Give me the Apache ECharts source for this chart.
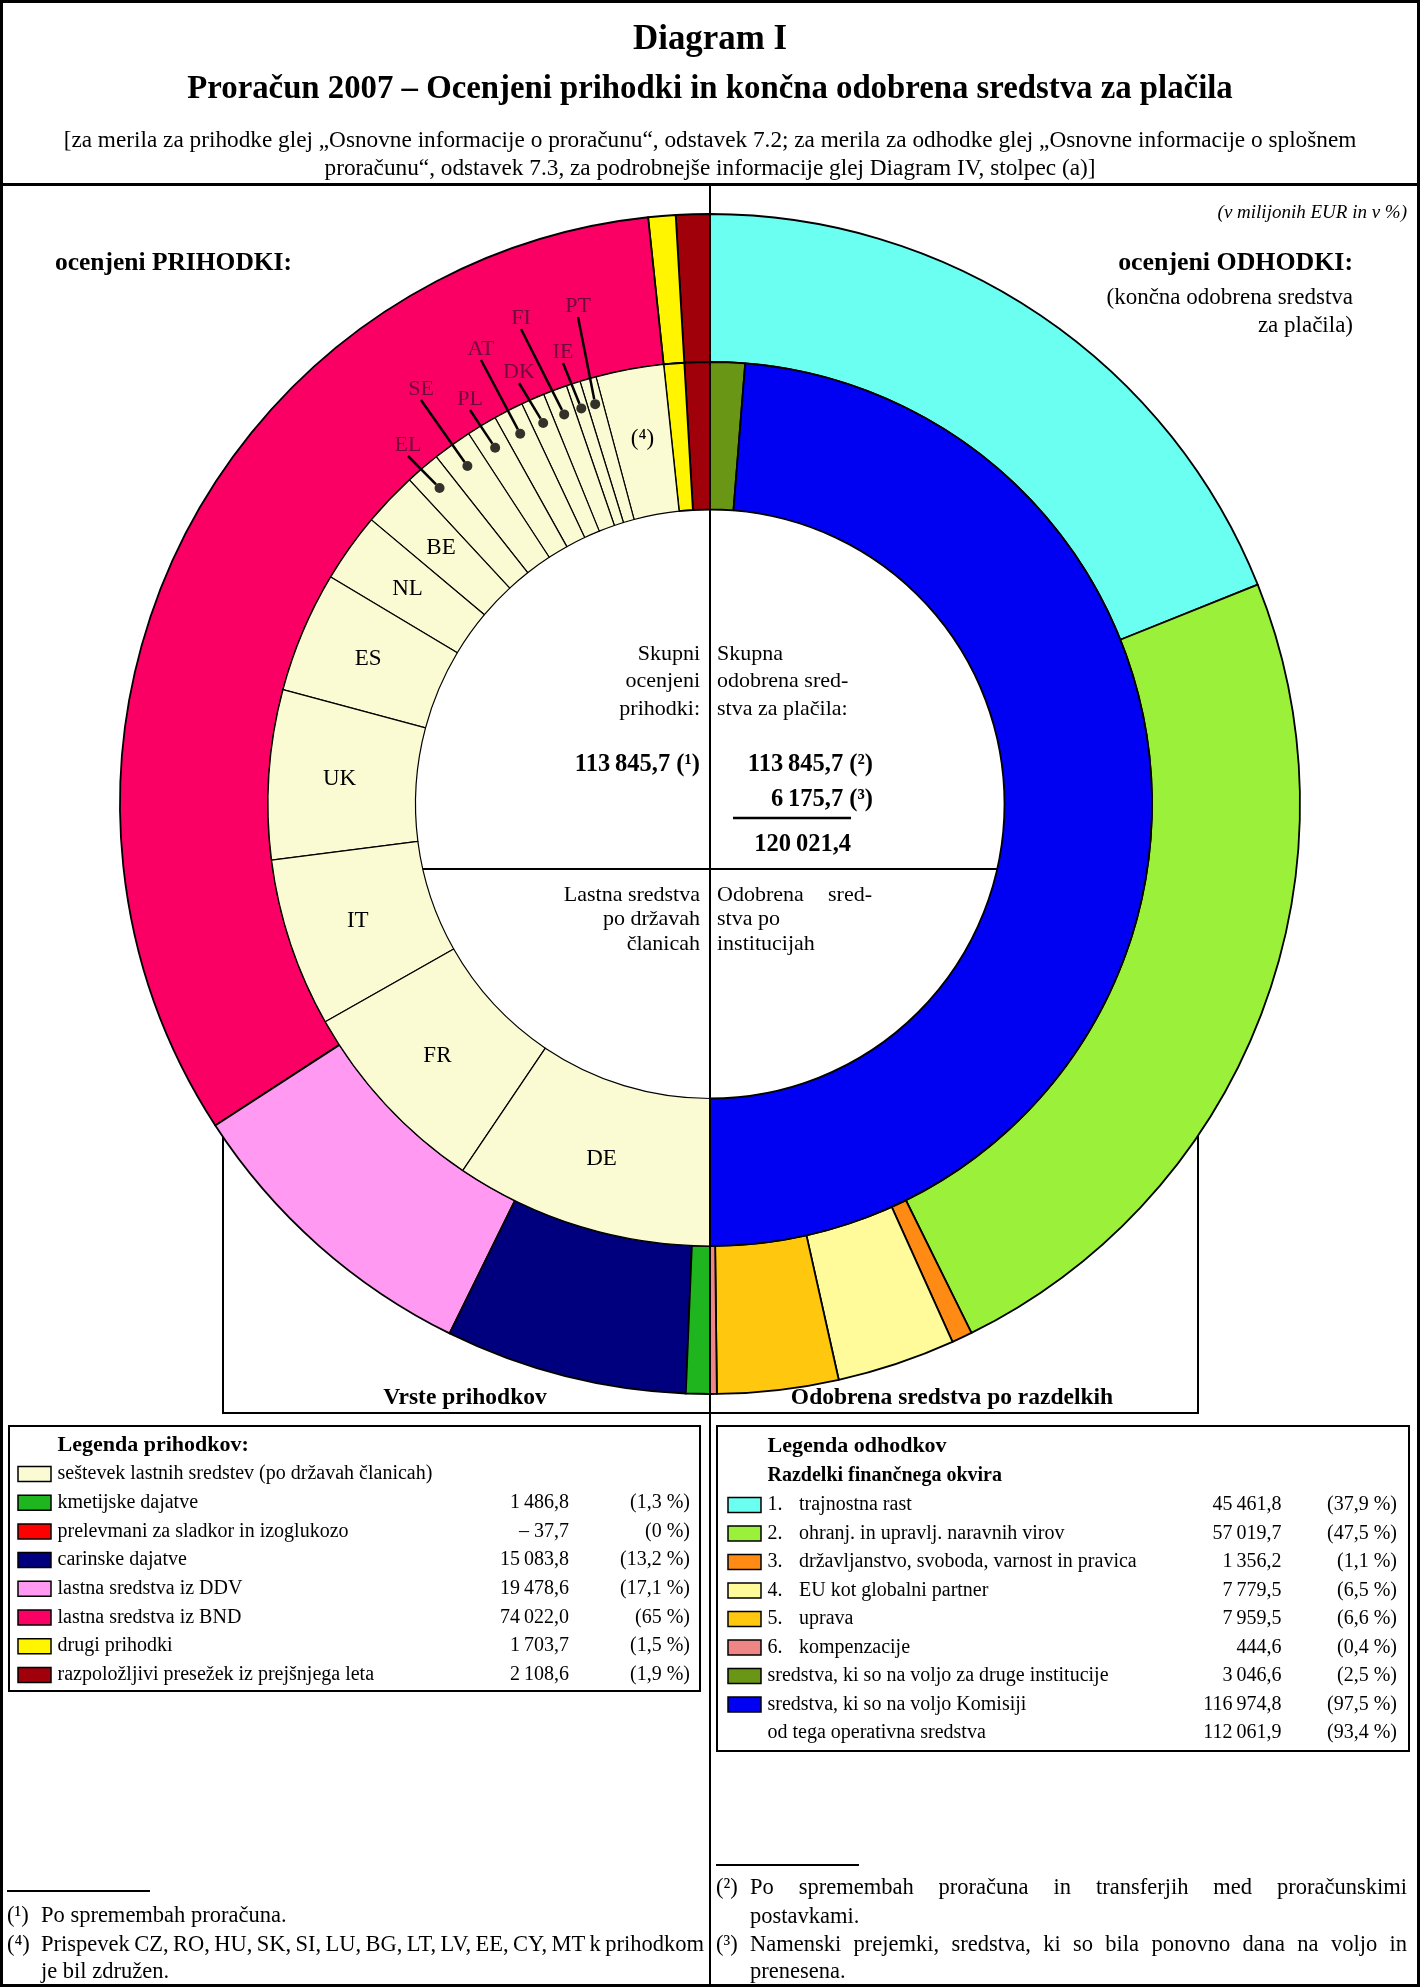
<!DOCTYPE html>
<html><head><meta charset="utf-8">
<script src="https://cdn.jsdelivr.net/npm/echarts@6/dist/echarts.min.js"></script>
<style>html,body{margin:0;padding:0;background:#fff}#c{width:1420px;height:1987px}</style>
</head><body><div id="c"></div>
<script>
// ================= DATA =================
const revenueNames = ['seštevek lastnih sredstev (po državah članicah)', 'kmetijske dajatve', 'prelevmani za sladkor in izoglukozo', 'carinske dajatve', 'lastna sredstva iz DDV', 'lastna sredstva iz BND', 'drugi prihodki', 'razpoložljivi presežek iz prejšnjega leta'];
const revenueValues = [null, 1486.8, -37.7, 15083.8, 19478.6, 74022.0, 1703.7, 2108.6];
const revenuePct = [null, 1.3, 0, 13.2, 17.1, 65, 1.5, 1.9];

const expenseNums = ['1.', '2.', '3.', '4.', '5.', '6.', '', '', ''];
const expenseNames = ['trajnostna rast', 'ohranj. in upravlj. naravnih virov', 'državljanstvo, svoboda, varnost in pravica', 'EU kot globalni partner', 'uprava', 'kompenzacije', 'sredstva, ki so na voljo za druge institucije', 'sredstva, ki so na voljo Komisiji', 'od tega operativna sredstva'];
const expenseValues = [45461.8, 57019.7, 1356.2, 7779.5, 7959.5, 444.6, 3046.6, 116974.8, 112061.9];
const expensePct = [37.9, 47.5, 1.1, 6.5, 6.6, 0.4, 2.5, 97.5, 93.4];

// own resources by member state, from top going counter-clockwise
const memberStates = ['(⁴)', 'PT', 'IE', 'FI', 'DK', 'AT', 'PL', 'SE', 'EL', 'BE', 'NL', 'ES', 'UK', 'IT', 'FR', 'DE'];
const memberValues = [5640, 1360, 1170, 1990, 1960, 2470, 2530, 3260, 2910, 4520, 5760, 10060, 14100, 14040, 16760, 21500];
const smallStates = ['PT', 'IE', 'FI', 'DK', 'AT', 'PL', 'SE', 'EL'];

const totalRevenue = 113845.7;
const totalAppropriations = 113845.7;
const assignedRevenue = 6175.7;
const totalExpenditure = 120021.4;

// ================= STYLE / LAYOUT =================
const revenueColors = ['#FBFBD3', '#1FB51F', '#FF0000', '#00007F', '#FF99F2', '#FA0064', '#FFF500', '#A0000A'];
const expenseColors = ['#6BFFF2', '#9BF03A', '#FF8A14', '#FFFB9A', '#FFC80F', '#F08585', '#6A9616', '#0000F2', null];
const smallLabelPos = { EL: [408, 445], SE: [421, 389], PL: [470, 399], AT: [481, 349], DK: [519, 372], FI: [521, 318], IE: [563, 352], PT: [578, 306] };
const CX = 710, CY = 804, R0 = 294.5, R1 = 442, R2 = 590, DOT_R = 416;
const FONT = '"Liberation Serif", "Times New Roman", serif';

// ================= HELPERS =================
const ctx = document.createElement('canvas').getContext('2d');
function fontStr(size, bold, italic) { return (italic ? 'italic ' : '') + (bold ? 'bold ' : '') + size + 'px ' + FONT; }
function measure(text, size, bold, italic) { ctx.font = fontStr(size, bold, italic); return ctx.measureText(text).width; }
function fitSize(text, width, bold, italic) { return 100 * width / measure(text, 100, bold, italic); }
function fmtNum(n) {
  const neg = n < 0; const s = Math.abs(n).toFixed(1).split('.');
  const int = s[0].replace(/\B(?=(\d{3})+(?!\d))/g, '\u2009');
  return (neg ? '– ' : '') + int + ',' + s[1];
}
function fmtPct(p) { return '(' + (Number.isInteger(p) ? String(p) : p.toFixed(1).replace('.', ',')) + '\u00A0%)'; }

const G = [];
function txt(x, y, text, o) {
  o = o || {};
  G.push({ type: 'text', x: x, y: y, z: o.z || 50, silent: true,
    style: { text: text, fill: o.color || '#000', font: fontStr(o.size || 20, o.bold, o.italic),
      textAlign: o.align || 'left', textVerticalAlign: 'middle' } });
}
function line(x1, y1, x2, y2, w, z) {
  G.push({ type: 'line', z: z || 60, silent: true, shape: { x1: x1, y1: y1, x2: x2, y2: y2 }, style: { stroke: '#000', lineWidth: w || 2 } });
}
function rect(x, y, w, h, o) {
  o = o || {};
  G.push({ type: 'rect', z: o.z || 40, silent: true, shape: { x: x, y: y, width: w, height: h }, style: { fill: o.fill || 'none', stroke: o.stroke || '#000', lineWidth: o.lw || 2 } });
}
function justify(x1, x2, y, text, size) {
  const words = text.split(' ');
  const ws = words.map(w => measure(w, size));
  const tot = ws.reduce((a, b) => a + b, 0);
  const gap = (x2 - x1 - tot) / (words.length - 1);
  let x = x1;
  words.forEach((w, i) => { txt(x, y, w, { size: size }); x += ws[i] + gap; });
}

// ================= FRAME & HEADER =================
rect(1.5, 1.5, 1417, 1984, { lw: 3, z: 70 });
line(0, 184.5, 1420, 184.5, 3, 70);
line(CX, 186, CX, 1986, 2, 70);
txt(710, 40, 'Diagram I', { bold: true, size: fitSize('Diagram I', 154, true), align: 'center' });
const sub = 'Proračun 2007 – Ocenjeni prihodki in končna odobrena sredstva za plačila';
txt(710, 90, sub, { bold: true, size: fitSize(sub, 1046, true), align: 'center' });
const br1 = '[za merila za prihodke glej „Osnovne informacije o proračunu“, odstavek 7.2; za merila za odhodke glej „Osnovne informacije o splošnem';
const br2 = 'proračunu“, odstavek 7.3, za podrobnejše informacije glej Diagram IV, stolpec (a)]';
const brSize = fitSize(br1, 1294, false);
txt(710, 141, br1, { size: brSize, align: 'center' });
txt(710, 169, br2, { size: brSize, align: 'center' });

txt(1407, 213, '(v milijonih EUR in v %)', { italic: true, size: 19, align: 'right' });
txt(55, 263, 'ocenjeni PRIHODKI:', { bold: true, size: fitSize('ocenjeni PRIHODKI:', 237, true) });
txt(1353, 263, 'ocenjeni ODHODKI:', { bold: true, size: fitSize('ocenjeni ODHODKI:', 235, true), align: 'right' });
txt(1353, 298, '(končna odobrena sredstva', { size: 23, align: 'right' });
txt(1353, 326, 'za plačila)', { size: 23, align: 'right' });

// bottom frame under the rings: verticals start where they meet the outer ring
const fxL = 223, fxR = 1198, fyB = 1413;
const fyL = CY + Math.sqrt(R2 * R2 - (CX - fxL) * (CX - fxL));
const fyR = CY + Math.sqrt(R2 * R2 - (fxR - CX) * (fxR - CX));
line(fxL, fyL, fxL, fyB + 1, 2, 40);
line(fxR, fyR, fxR, fyB + 1, 2, 40);
line(fxL, fyB, fxR, fyB, 2, 40);
txt(465, 1398, 'Vrste prihodkov', { bold: true, size: 23.5, align: 'center' });
txt(952, 1398, 'Odobrena sredstva po razdelkih', { bold: true, size: 23.5, align: 'center' });

// ================= CENTRE TEXT =================
const hy = 869, hw = Math.sqrt(R0 * R0 - (hy - CY) * (hy - CY));
line(CX - hw, hy, CX + hw, hy, 2, 60);
const cs = 22, bs = 24.5;
txt(700, 654, 'Skupni', { size: cs, align: 'right' });
txt(700, 681, 'ocenjeni', { size: cs, align: 'right' });
txt(700, 709, 'prihodki:', { size: cs, align: 'right' });
txt(700, 765, fmtNum(totalRevenue) + ' (¹)', { size: bs, bold: true, align: 'right' });
txt(717, 654, 'Skupna', { size: cs });
txt(717, 681, 'odobrena sred-', { size: cs });
txt(717, 709, 'stva za plačila:', { size: cs });
txt(873, 765, fmtNum(totalAppropriations) + ' (²)', { size: bs, bold: true, align: 'right' });
txt(873, 800, fmtNum(assignedRevenue) + ' (³)', { size: bs, bold: true, align: 'right' });
line(733, 818, 851, 818, 2.5, 60);
txt(851, 845, fmtNum(totalExpenditure), { size: bs, bold: true, align: 'right' });
txt(700, 895, 'Lastna sredstva', { size: cs, align: 'right' });
txt(700, 919, 'po državah', { size: cs, align: 'right' });
txt(700, 944, 'članicah', { size: cs, align: 'right' });
justify(717, 872, 895, 'Odobrena sred-', cs);
txt(717, 919, 'stva po', { size: cs });
txt(717, 944, 'institucijah', { size: cs });

// ================= LEGENDS =================
rect(9, 1426, 691, 265, { lw: 2 });
txt(57.5, 1445, 'Legenda prihodkov:', { bold: true, size: 22 });
revenueNames.forEach((n, i) => {
  const y = 1474 + 28.7 * i;
  rect(18, y - 7.5, 33, 15, { fill: revenueColors[i], lw: 1.5, z: 45 });
  txt(57.5, y, n, { size: 20 });
  if (revenueValues[i] !== null) {
    txt(569, y, fmtNum(revenueValues[i]), { size: 20, align: 'right' });
    txt(690, y, fmtPct(revenuePct[i]), { size: 20, align: 'right' });
  }
});
rect(717, 1426, 692, 325, { lw: 2 });
txt(767.5, 1446, 'Legenda odhodkov', { bold: true, size: 22 });
txt(767.5, 1476, 'Razdelki finančnega okvira', { bold: true, size: 20 });
expenseNames.forEach((n, i) => {
  const y = 1505 + 28.5 * i;
  if (expenseColors[i]) rect(728, y - 7.5, 33, 15, { fill: expenseColors[i], lw: 1.5, z: 45 });
  if (expenseNums[i]) { txt(767.5, y, expenseNums[i], { size: 20 }); txt(799, y, n, { size: 20 }); }
  else txt(767.5, y, n, { size: 20 });
  txt(1281.5, y, fmtNum(expenseValues[i]), { size: 20, align: 'right' });
  txt(1397, y, fmtPct(expensePct[i]), { size: 20, align: 'right' });
});

// ================= FOOTNOTES =================
const fs = 22.5;
line(7, 1891, 150, 1891, 2, 60);
txt(7, 1916, '(¹)', { size: fs }); txt(41, 1916, 'Po spremembah proračuna.', { size: fs });
txt(7, 1945, '(⁴)', { size: fs }); justify(41, 704, 1945, 'Prispevek CZ, RO, HU, SK, SI, LU, BG, LT, LV, EE, CY, MT k prihodkom', fs);
txt(41, 1972, 'je bil združen.', { size: fs });
line(716, 1865, 859, 1865, 2, 60);
txt(716, 1888, '(²)', { size: fs }); justify(750, 1407, 1888, 'Po spremembah proračuna in transferjih med proračunskimi', fs);
txt(750, 1917, 'postavkami.', { size: fs });
txt(716, 1945, '(³)', { size: fs }); justify(750, 1407, 1945, 'Namenski prejemki, sredstva, ki so bila ponovno dana na voljo in', fs);
txt(750, 1972, 'prenesena.', { size: fs });

// ================= PIE DATA =================
const outerLeftIdx = [7, 6, 5, 4, 3, 1];
const outerLeft = outerLeftIdx.map(i => ({ name: revenueNames[i], value: revenueValues[i], itemStyle: { color: revenueColors[i] } }));
const innerLeft = [7, 6].map(i => ({ name: revenueNames[i], value: revenueValues[i], itemStyle: { color: revenueColors[i] }, label: { show: false } }))
  .concat(memberStates.map((n, i) => ({ name: n, value: memberValues[i], itemStyle: { color: revenueColors[0], borderWidth: 1.2 },
    label: { show: smallStates.indexOf(n) < 0 } })));
const outerRight = [0, 1, 2, 3, 4, 5].map(i => ({ name: expenseNames[i], value: expenseValues[i], itemStyle: { color: expenseColors[i] } }));
const innerRight = [6, 7].map(i => ({ name: expenseNames[i], value: expenseValues[i], itemStyle: { color: expenseColors[i] } }));

// dots for the small member states (polar coords, angle in degrees from top, counter-clockwise)
const innerLeftTotal = innerLeft.reduce((s, d) => s + d.value, 0);
let cum = revenueValues[7] + revenueValues[6];
const dots = [];
memberStates.forEach((n, i) => {
  const mid = cum + memberValues[i] / 2; cum += memberValues[i];
  if (smallStates.indexOf(n) >= 0) dots.push({ name: n, value: [DOT_R, mid / innerLeftTotal * 180] });
});

function pie(data, r, left) {
  return { type: 'pie', center: [CX, CY], radius: r, startAngle: 90, endAngle: left ? 270 : -90, clockwise: !left,
    data: data, silent: true, animation: false, avoidLabelOverlap: false, minAngle: 0, z: 2,
    itemStyle: { borderColor: '#000', borderWidth: 1.8 },
    label: { show: false }, labelLine: { show: false }, emphasis: { disabled: true } };
}
const sInnerLeft = pie(innerLeft, [R0, R1], true);
sInnerLeft.label = { show: true, position: 'inside', formatter: '{b}', color: '#000', fontFamily: FONT, fontSize: 23 };

const option = {
  backgroundColor: '#fff',
  animation: false,
  polar: { center: [CX, CY], radius: R2 },
  angleAxis: { type: 'value', min: 0, max: 360, startAngle: 90, clockwise: false, show: false },
  radiusAxis: { type: 'value', min: 0, max: R2, show: false },
  series: [
    pie(outerLeft, [R1, R2], true),
    pie(outerRight, [R1, R2], false),
    sInnerLeft,
    pie(innerRight, [R0, R1], false),
    { type: 'scatter', coordinateSystem: 'polar', data: dots, symbolSize: 10, z: 5, silent: true,
      itemStyle: { color: '#000' },
      label: { show: true, formatter: '{b}', color: '#4a0c30', fontFamily: FONT, fontSize: 22 },
      labelLine: { show: true, lineStyle: { color: '#000', width: 2.5 } },
      labelLayout: function (p) { const pos = smallLabelPos[dots[p.dataIndex].name]; return { x: pos[0], y: pos[1], align: 'center', verticalAlign: 'middle' }; } }
  ],
  graphic: { elements: G }
};
const chart = echarts.init(document.getElementById('c'), null, { renderer: 'canvas', width: 1420, height: 1987 });
chart.setOption(option);
</script></body></html>
